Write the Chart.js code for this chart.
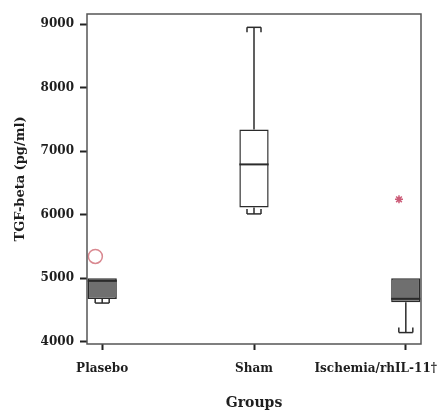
<!DOCTYPE html>
<html>
<head>
<meta charset="utf-8">
<style>
  html, body { margin: 0; padding: 0; background: #fff; }
</style>
</head>
<body>
<canvas id="boxChart" width="443" height="412"></canvas>
<script src="https://cdn.jsdelivr.net/npm/chart.js@4.4.1/dist/chart.umd.min.js"></script>
<script>
// Dados (TGF-beta em pg/ml)
const groups = ['Plasebo', 'Sham', 'Ischemia/rhIL-11†'];
const whiskerMin = [4605, 6010, 4140];
const q1 = [4670, 6110, 4617];
const median = [4955, 6790, 4672];
const q3 = [4997, 7340, 4997];
const whiskerMax = [4997, 8950, 4997];
const outlierGroup = [1, 3];
const outlierValue = [5340, 6240];
const yTicks = [4000, 5000, 6000, 7000, 8000, 9000];

// Estilo
const serif = 'DejaVu Serif';
const textColor = '#1e1e1e';
const lineColor = '#2b2b2b';
const boxFill = ['#6f6f6f', '#ffffff', '#6f6f6f'];
const outlierShift = -0.045;

// Bigodes, mediana e moldura
const boxDetails = {
    id: 'boxDetails',
    afterDatasetsDraw(chart) {
        const { ctx, chartArea, scales: { x, y } } = chart;
        const bars = chart.getDatasetMeta(0).data;
        const seg = (x1, y1, x2, y2) => {
            ctx.beginPath();
            ctx.moveTo(x1, y1);
            ctx.lineTo(x2, y2);
            ctx.stroke();
        };
        const cap = (cx, yv, yEdge) => {
            const dir = yEdge > yv ? 1 : -1;
            const leg = Math.min(5, Math.abs(yEdge - yv));
            seg(cx - 7, yv, cx + 7, yv);
            seg(cx - 7, yv, cx - 7, yv + dir * leg);
            seg(cx + 7, yv, cx + 7, yv + dir * leg);
        };

        ctx.save();
        ctx.beginPath();
        ctx.rect(chartArea.left, chartArea.top, chartArea.width, chartArea.height);
        ctx.clip();
        ctx.strokeStyle = lineColor;
        ctx.lineWidth = 1.5;
        groups.forEach((g, i) => {
            const cx = x.getPixelForValue(i + 1);
            const half = bars[i].width / 2;
            const yMed = y.getPixelForValue(median[i]);
            ctx.lineWidth = 2;
            seg(cx - half, yMed, cx + half, yMed);
            ctx.lineWidth = 1.5;
            const yQ3 = y.getPixelForValue(q3[i]);
            const yQ1 = y.getPixelForValue(q1[i]);
            if (whiskerMax[i] > q3[i]) {
                const yMax = y.getPixelForValue(whiskerMax[i]);
                seg(cx, yQ3, cx, yMax);
                cap(cx, yMax, yQ3);
            }
            if (whiskerMin[i] < q1[i]) {
                const yMin = y.getPixelForValue(whiskerMin[i]);
                seg(cx, yQ1, cx, yMin);
                cap(cx, yMin, yQ1);
            }
        });
        ctx.restore();

        ctx.save();
        ctx.strokeStyle = '#555';
        ctx.lineWidth = 1.5;
        ctx.strokeRect(chartArea.left, chartArea.top, chartArea.width, chartArea.height);
        ctx.restore();
    },
    afterDraw(chart) {
        // Rótulos das categorias (o último é puxado para dentro do canvas)
        const { ctx, scales: { x } } = chart;
        ctx.save();
        ctx.font = 'bold 12px "' + serif + '"';
        ctx.fillStyle = textColor;
        ctx.textBaseline = 'alphabetic';
        ctx.textAlign = 'left';
        groups.forEach((g, i) => {
            const w = ctx.measureText(g).width;
            let left = x.getPixelForValue(i + 1) - w / 2;
            left = Math.min(left, chart.width - 6 - w);
            ctx.fillText(g, left, 372);
        });
        ctx.restore();
    }
};

const ctx = document.getElementById('boxChart').getContext('2d');
const boxChart = new Chart(ctx, {
    type: 'bar',
    data: {
        datasets: [{
            data: groups.map((g, i) => ({ x: i + 1, y: [q1[i], q3[i]] })),
            backgroundColor: boxFill,
            borderColor: lineColor,
            borderWidth: 1.5,
            borderSkipped: false,
            barPercentage: 0.193,
            categoryPercentage: 1
        }, {
            type: 'scatter',
            data: outlierGroup.map((g, k) => ({ x: g + outlierShift, y: outlierValue[k] })),
            pointStyle: ['circle', 'star'],
            pointRadius: [7, 4],
            borderColor: ['#d98890', '#cc5c78'],
            backgroundColor: 'rgba(0,0,0,0)',
            borderWidth: 1.5
        }]
    },
    options: {
        responsive: false,
        animation: false,
        layout: {
            padding: { left: 0, right: 22, top: 14, bottom: 0 }
        },
        plugins: {
            legend: { display: false },
            tooltip: { enabled: false }
        },
        scales: {
            x: {
                type: 'linear',
                min: 0.9,
                max: 3.1,
                offset: false,
                afterBuildTicks: scale => {
                    scale.ticks = groups.map((g, i) => ({ value: i + 1 }));
                },
                afterFit: scale => { scale.height = 68; },
                ticks: { display: false },
                grid: {
                    offset: false,
                    drawOnChartArea: false,
                    tickLength: 6,
                    tickWidth: 2,
                    tickColor: '#222'
                },
                border: { display: false },
                title: {
                    display: true,
                    text: 'Groups',
                    color: textColor,
                    font: { family: serif, size: 14, weight: 'bold' },
                    padding: { top: 0, bottom: 0 }
                }
            },
            y: {
                min: 3960,
                max: 9160,
                afterBuildTicks: scale => {
                    scale.ticks = yTicks.map(v => ({ value: v }));
                },
                afterFit: scale => { scale.width = 87; },
                ticks: {
                    color: textColor,
                    padding: 6,
                    font: { family: serif, size: 12, weight: 'bold' },
                    callback: value => String(value)
                },
                grid: {
                    drawOnChartArea: false,
                    tickLength: 7,
                    tickWidth: 2,
                    tickColor: '#222'
                },
                border: { display: false },
                title: {
                    display: true,
                    text: 'TGF-beta (pg/ml)',
                    color: textColor,
                    font: { family: serif, size: 13, weight: 'bold' },
                    padding: { top: 13, bottom: 0 }
                }
            }
        }
    },
    plugins: [boxDetails]
});
</script>
</body>
</html>
